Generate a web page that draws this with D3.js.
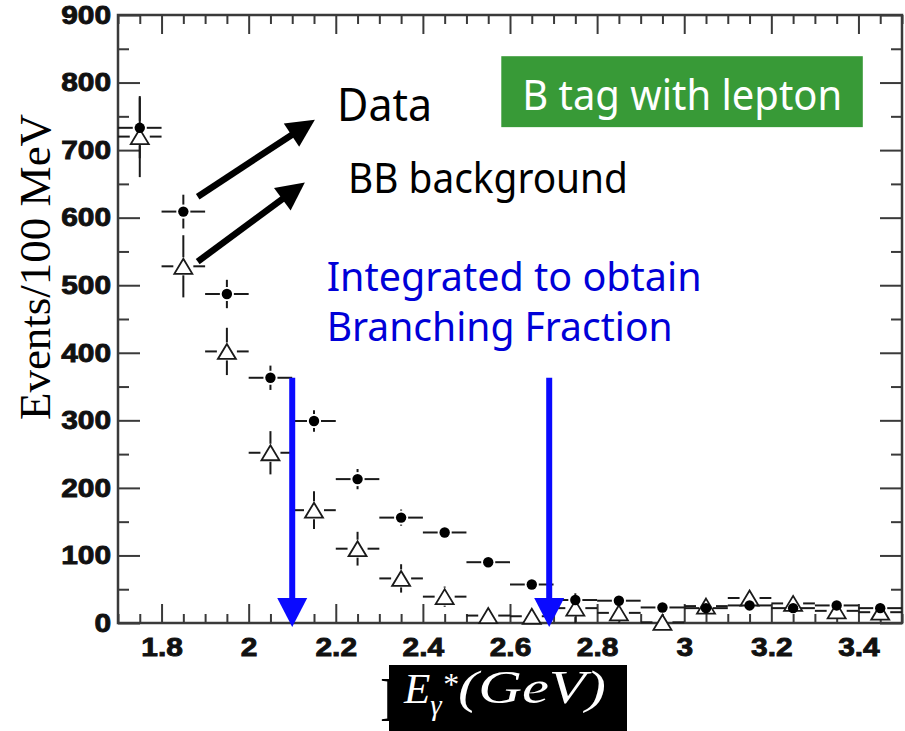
<!DOCTYPE html>
<html>
<head>
<meta charset="utf-8">
<script src="https://cdn.jsdelivr.net/npm/d3@7/dist/d3.min.js"></script>
<style>
  body { margin: 0; background: #fff; }
  svg { display: block; }
</style>
</head>
<body>
<svg id="chart" width="905" height="731"></svg>
<script>
// Photon energy spectrum, 100 MeV bins (bin centres in GeV)
const binCenters = [1.75, 1.85, 1.95, 2.05, 2.15, 2.25, 2.35, 2.45, 2.55,
                    2.65, 2.75, 2.85, 2.95, 3.05, 3.15, 3.25, 3.35, 3.45];
const binHalfWidth = 0.05;

// On-resonance data (filled circles)
const dataCounts = [733, 609, 487, 363, 299, 213, 156, 134, 90,
                    57, 34, 33, 23, 22, 26, 22, 26, 22];
const dataErrors = [45, 25, 21, 18, 16, 15, 12, 10, 9,
                    7, 6, 6, 5, 5, 5, 5, 5, 5];

// BB background estimate (open triangles)
const bkgCounts = [720, 528, 402, 252, 167, 110, 66, 39, 11,
                   10, 22, 15, 1, 25, 37, 29, 18, 16];
const bkgErrors = [60, 46, 35, 32, 28, 25, 21, 15, 12,
                   10, 22, 15, 6, 8, 8, 8, 8, 8];

// Axis ticks
const xTickValues = [1.8, 2.0, 2.2, 2.4, 2.6, 2.8, 3.0, 3.2, 3.4];
const xTickLabels = ["1.8", "2", "2.2", "2.4", "2.6", "2.8", "3", "3.2", "3.4"];
const yTickValues = [0, 100, 200, 300, 400, 500, 600, 700, 800, 900];
const yTickLabels = ["0", "100", "200", "300", "400", "500", "600", "700", "800", "900"];

// Integration window marked by the blue arrows (GeV)
const integrationLimits = [2.1, 2.69];

const svg = d3.select("#chart");
const frame = { left: 118, top: 15, right: 902, bottom: 623 };

const x = d3.scaleLinear().domain([1.7, 3.5]).range([frame.left, frame.right]);
const y = d3.scaleLinear().domain([0, 900]).range([frame.bottom, frame.top]);

const axisColor = "#3a3a3a";
const ink = "#1a1a1a";

// ---- axes with inward ticks on all four sides ----
const xMinor = d3.range(1.7, 3.5001, 0.05).map(v => +v.toFixed(2))
  .filter(v => !xTickValues.some(t => Math.abs(t - v) < 1e-6));
const yMinor = d3.range(50, 900, 100);

function styleAxis(g) {
  g.select(".domain").remove();
  g.selectAll(".tick line").attr("stroke", axisColor).attr("stroke-width", 2);
}

const tickFont = "'Liberation Sans', Arial, sans-serif";
function styleTickText(sel) {
  sel.attr("font-family", tickFont).attr("font-weight", "bold")
    .attr("font-size", 26).attr("fill", "#111")
    .attr("stroke", "#111").attr("stroke-width", 0.9);
}

svg.append("g")
  .attr("transform", `translate(0,${frame.bottom})`)
  .call(d3.axisBottom(x).tickValues(xTickValues).tickSize(-19).tickPadding(15)
        .tickFormat((d, i) => xTickLabels[i]))
  .call(styleAxis)
  .call(g => g.selectAll("text").call(styleTickText)
    .attr("transform", "scale(1.15,1)"));

svg.append("g")
  .attr("transform", `translate(0,${frame.bottom})`)
  .call(d3.axisBottom(x).tickValues(xMinor).tickSize(-9).tickFormat(""))
  .call(styleAxis);

svg.append("g")
  .attr("transform", `translate(0,${frame.top})`)
  .call(d3.axisTop(x).tickValues(xTickValues).tickSize(-19).tickFormat(""))
  .call(styleAxis);

svg.append("g")
  .attr("transform", `translate(0,${frame.top})`)
  .call(d3.axisTop(x).tickValues(xMinor).tickSize(-9).tickFormat(""))
  .call(styleAxis);

svg.append("g")
  .attr("transform", `translate(${frame.left},0)`)
  .call(d3.axisLeft(y).tickValues(yTickValues).tickSize(-22).tickPadding(6)
        .tickFormat((d, i) => yTickLabels[i]))
  .call(styleAxis)
  .call(g => g.selectAll("text").call(styleTickText)
    .attr("transform", "scale(1.15,1)"));

svg.append("g")
  .attr("transform", `translate(${frame.left},0)`)
  .call(d3.axisLeft(y).tickValues(yMinor).tickSize(-11).tickFormat(""))
  .call(styleAxis);

svg.append("g")
  .attr("transform", `translate(${frame.right},0)`)
  .call(d3.axisRight(y).tickValues(yTickValues).tickSize(-22).tickFormat(""))
  .call(styleAxis);

svg.append("g")
  .attr("transform", `translate(${frame.right},0)`)
  .call(d3.axisRight(y).tickValues(yMinor).tickSize(-11).tickFormat(""))
  .call(styleAxis);

svg.append("rect")
  .attr("x", frame.left).attr("y", frame.top)
  .attr("width", frame.right - frame.left).attr("height", frame.bottom - frame.top)
  .attr("fill", "none").attr("stroke", axisColor).attr("stroke-width", 2.5);

// ---- error bars with a gap around the marker ----
function drawSeries(values, errors, gapX, gapY, cls) {
  const g = svg.append("g").attr("class", cls)
    .attr("stroke", ink).attr("stroke-width", 2).attr("fill", "none");
  binCenters.forEach((c, i) => {
    const cx = x(c), cy = y(values[i]);
    const x0 = x(c - binHalfWidth), x1 = x(c + binHalfWidth);
    g.append("line").attr("x1", x0).attr("x2", cx - gapX).attr("y1", cy).attr("y2", cy);
    g.append("line").attr("x1", cx + gapX).attr("x2", x1).attr("y1", cy).attr("y2", cy);
    const yTop = y(values[i] + errors[i]);
    const yBot = Math.min(y(values[i] - errors[i]), frame.bottom);
    if (cy - yTop > gapY) g.append("line").attr("x1", cx).attr("x2", cx).attr("y1", yTop).attr("y2", cy - gapY);
    if (yBot - cy > gapY) g.append("line").attr("x1", cx).attr("x2", cx).attr("y1", cy + gapY).attr("y2", yBot);
  });
}

drawSeries(bkgCounts, bkgErrors, 10, 9, "bkg-errors");
drawSeries(dataCounts, dataErrors, 7, 7, "data-errors");

// open triangles: background
const triW = 18, triH = 15;
svg.append("g").selectAll("path")
  .data(binCenters.map((c, i) => ({ c, v: bkgCounts[i] })))
  .join("path")
  .attr("d", d => {
    const cx = x(d.c), cy = y(d.v);
    return `M${cx},${cy - triH / 2}L${cx + triW / 2},${cy + triH / 2}L${cx - triW / 2},${cy + triH / 2}Z`;
  })
  .attr("fill", "#fff").attr("stroke", ink).attr("stroke-width", 1.8);

// filled circles: data
svg.append("g").selectAll("circle")
  .data(binCenters.map((c, i) => ({ c, v: dataCounts[i] })))
  .join("circle")
  .attr("cx", d => x(d.c)).attr("cy", d => y(d.v)).attr("r", 5.2)
  .attr("fill", "#000");

// ---- axis titles ----
svg.append("text")
  .attr("transform", `translate(50,267) rotate(-90)`)
  .attr("text-anchor", "middle")
  .attr("font-family", "'Liberation Serif', 'Times New Roman', serif")
  .attr("font-size", 45).attr("fill", "#000")
  .text("Events/100 MeV");

// plain label underneath; only its left edge shows beside the highlight box
svg.append("defs").append("clipPath").attr("id", "under-label")
  .append("rect").attr("x", 370).attr("y", 660).attr("width", 19).attr("height", 71);
svg.append("text")
  .attr("clip-path", "url(#under-label)")
  .attr("x", 380).attr("y", 721)
  .attr("font-family", "'Liberation Serif', 'Times New Roman', serif")
  .attr("font-size", 64).attr("fill", "#000")
  .text("E");

svg.append("rect")
  .attr("x", 389).attr("y", 665).attr("width", 238).attr("height", 66)
  .attr("fill", "#000");

const xTitle = svg.append("text")
  .attr("x", 404).attr("y", 703)
  .attr("font-family", "'Liberation Serif', 'Times New Roman', serif")
  .attr("font-style", "italic").attr("fill", "#fff");
xTitle.append("tspan").attr("font-size", 43).text("E");
xTitle.append("tspan").attr("dy", 12).attr("font-size", 29).text("γ");
xTitle.append("tspan").attr("dy", -20).attr("font-size", 32).text("*");
xTitle.append("tspan").attr("x", 458).attr("dy", 8).attr("font-size", 46)
  .attr("textLength", 148).attr("lengthAdjust", "spacingAndGlyphs").text("(GeV)");

// ---- annotations ----
const labelFont = "'Noto Sans', 'DejaVu Sans', sans-serif";

function arrow(x1, y1, x2, y2, color, width, headLen, headW) {
  const dx = x2 - x1, dy = y2 - y1, len = Math.hypot(dx, dy);
  const ux = dx / len, uy = dy / len;
  const bx = x2 - ux * headLen, by = y2 - uy * headLen;
  const g = svg.append("g");
  g.append("line").attr("x1", x1).attr("y1", y1).attr("x2", bx + ux * 2).attr("y2", by + uy * 2)
    .attr("stroke", color).attr("stroke-width", width);
  g.append("path")
    .attr("d", `M${x2},${y2}L${bx - uy * headW / 2},${by + ux * headW / 2}L${bx + uy * headW / 2},${by - ux * headW / 2}Z`)
    .attr("fill", color);
}

// black pointers to the legend words
arrow(x(1.883), y(631), x(2.152), y(745), "#000", 6.5, 28, 28);
arrow(x(1.883), y(535), x(2.129), y(652), "#000", 6.5, 28, 28);

svg.append("text").attr("x", x(2.203)).attr("y", y(743))
  .attr("font-family", labelFont).attr("font-size", 45).attr("fill", "#000")
  .attr("textLength", 95).attr("lengthAdjust", "spacingAndGlyphs").text("Data");
svg.append("text").attr("x", x(2.228)).attr("y", y(637))
  .attr("font-family", labelFont).attr("font-size", 41).attr("fill", "#000")
  .attr("textLength", 280).attr("lengthAdjust", "spacingAndGlyphs").text("BB background");

// blue integration window
const blue = "#0a0aff";
integrationLimits.forEach(lim => {
  arrow(x(lim), y(363), x(lim), y(-6), blue, 6, 29, 30);
});
svg.append("text").attr("x", x(2.179)).attr("y", y(491))
  .attr("font-family", labelFont).attr("font-size", 40).attr("fill", "#0000d8")
  .attr("textLength", 375).attr("lengthAdjust", "spacingAndGlyphs").text("Integrated to obtain");
svg.append("text").attr("x", x(2.179)).attr("y", y(417))
  .attr("font-family", labelFont).attr("font-size", 40).attr("fill", "#0000d8")
  .attr("textLength", 346).attr("lengthAdjust", "spacingAndGlyphs").text("Branching Fraction");

// green tag box
svg.append("rect")
  .attr("x", x(2.580)).attr("y", y(839))
  .attr("width", x(3.410) - x(2.580)).attr("height", y(734) - y(839))
  .attr("fill", "#389a37");
svg.append("text").attr("x", x(2.628)).attr("y", y(759))
  .attr("font-family", labelFont).attr("font-size", 42).attr("fill", "#fff")
  .attr("textLength", 320).attr("lengthAdjust", "spacingAndGlyphs").text("B tag with lepton");
</script>
</body>
</html>
